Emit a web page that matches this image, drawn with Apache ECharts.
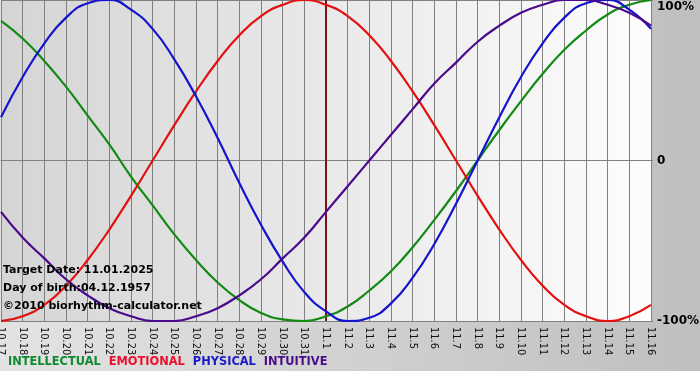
<!DOCTYPE html>
<html>
<head>
<meta charset="utf-8">
<script src="https://cdn.jsdelivr.net/npm/echarts@6/dist/echarts.min.js"></script>
<style>html,body{margin:0;padding:0;background:#fff}#c{width:700px;height:380px}</style>
</head>
<body>
<div id="c"></div>
<script>
const categories = ['10.17','10.18','10.19','10.20','10.21','10.22','10.23','10.24','10.25','10.26','10.27','10.28','10.29','10.30','10.31','11.1','11.2','11.3','11.4','11.5','11.6','11.7','11.8','11.9','11.10','11.11','11.12','11.13','11.14','11.15','11.16'];
const intellectual = [87,76,62,46,28,10,-10,-28,-46,-62,-76,-87,-95,-99,-100,-97,-91,-81,-69,-54,-37,-19,0,19,37,54,69,81,91,97,100];
const emotional = [-100,-97,-90,-78,-62,-43,-22,0,22,43,62,78,90,97,100,97,90,78,62,43,22,0,-22,-43,-62,-78,-90,-97,-100,-97,-90];
const physical = [27,52,73,89,98,100,94,82,63,40,14,-14,-40,-63,-82,-94,-100,-98,-89,-73,-52,-27,0,27,52,73,89,98,100,94,82];
const intuitive = [-32,-48,-61,-74,-84,-92,-97,-100,-100,-97,-92,-84,-74,-61,-48,-32,-16,0,16,32,48,61,74,84,92,97,100,100,97,92,84];
const yTicks = {'100':'100%','0':'0','-100':'-100%'};
const targetDate = '11.1';
const infoLines = ['Target Date: 11.01.2025','Day of birth:04.12.1957','\u00a92010 biorhythm-calculator.net'];

const FONT = 'DejaVu Sans, Verdana, sans-serif';
const NARROW = '"Liberation Sans Narrow", "DejaVu Sans Condensed", "Liberation Sans", sans-serif';
const colors = {INTELLECTUAL:'#138a13', EMOTIONAL:'#e41010', PHYSICAL:'#1414cc', INTUITIVE:'#4b0a8c'};
const legendColors = {INTELLECTUAL:'#0f8a2e', EMOTIONAL:'#ea1030', PHYSICAL:'#1a1ac8', INTUITIVE:'#4a0c8a'};

const chart = echarts.init(document.getElementById('c'), null, {renderer:'canvas'});
function mk(name, data, extra){
  return Object.assign({name, type:'line', data, smooth:0.5, symbol:'none',
    lineStyle:{color:colors[name], width:2.2}, itemStyle:{color:colors[name]}, z:3}, extra||{});
}
chart.setOption({
  animation:false,
  backgroundColor:{type:'linear',x:0,y:0,x2:1,y2:0,colorStops:[{offset:0,color:'#e3e3e3'},{offset:1,color:'#bfbfbf'}]},
  graphic:[
    {type:'rect', left:0, top:371, shape:{width:700,height:9}, style:{fill:'#ffffff'}, silent:true, z:-1},
  ].concat(infoLines.map((t,i)=>({type:'text', left:3, top:265+i*18, z:10,
      style:{text:t, font:'bold 11px '+FONT, fill:'#000'}}))),
  legend:{
    left:3, top:357, padding:0, icon:'none', itemWidth:0, itemHeight:0, itemGap:3,
    selectedMode:false,
    textStyle:{fontFamily:FONT, fontWeight:'bold', fontSize:11.4},
    data:Object.keys(legendColors).map(n=>({name:n, textStyle:{color:legendColors[n]}}))
  },
  grid:{left:1, right:49, top:0, bottom:59, show:true, borderWidth:0, containLabel:false, outerBoundsMode:'none',
    backgroundColor:{type:'linear',x:0,y:0,x2:1,y2:0,colorStops:[{offset:0,color:'#d5d5d5'},{offset:1,color:'#fdfdfd'}]}},
  xAxis:{type:'category', data:categories, boundaryGap:false,
    axisLine:{show:true, lineStyle:{color:'#808080', width:1}},
    axisTick:{show:true, length:5, lineStyle:{color:'#808080'}},
    splitLine:{show:true, lineStyle:{color:'#808080', width:1}},
    axisLabel:{rotate:-90, interval:0, margin:6, color:'#111', fontFamily:NARROW, fontSize:11, hideOverlap:false}},
  yAxis:{type:'value', position:'right', min:-100, max:100, interval:100,
    axisLine:{show:true, lineStyle:{color:'#808080'}},
    axisTick:{show:true, length:2, lineStyle:{color:'#808080'}},
    splitLine:{show:true, lineStyle:{color:'#808080', width:1}},
    axisLabel:{margin:6, color:'#000', fontFamily:FONT, fontWeight:'bold', fontSize:12,
      formatter:v=> v===100 ? '{t|100%}' : (yTicks[String(v)]||''),
      rich:{t:{padding:[14,0,0,0], fontFamily:FONT, fontWeight:'bold', fontSize:12, color:'#000'}}}},
  series:[
    mk('INTELLECTUAL', intellectual, {markLine:{silent:true, symbol:'none', label:{show:false},
      lineStyle:{color:'#7a1414', width:2, type:'solid'}, data:[{xAxis:targetDate}], z:2}}),
    mk('EMOTIONAL', emotional),
    mk('PHYSICAL', physical),
    mk('INTUITIVE', intuitive)
  ]
});
</script>
</body>
</html>
